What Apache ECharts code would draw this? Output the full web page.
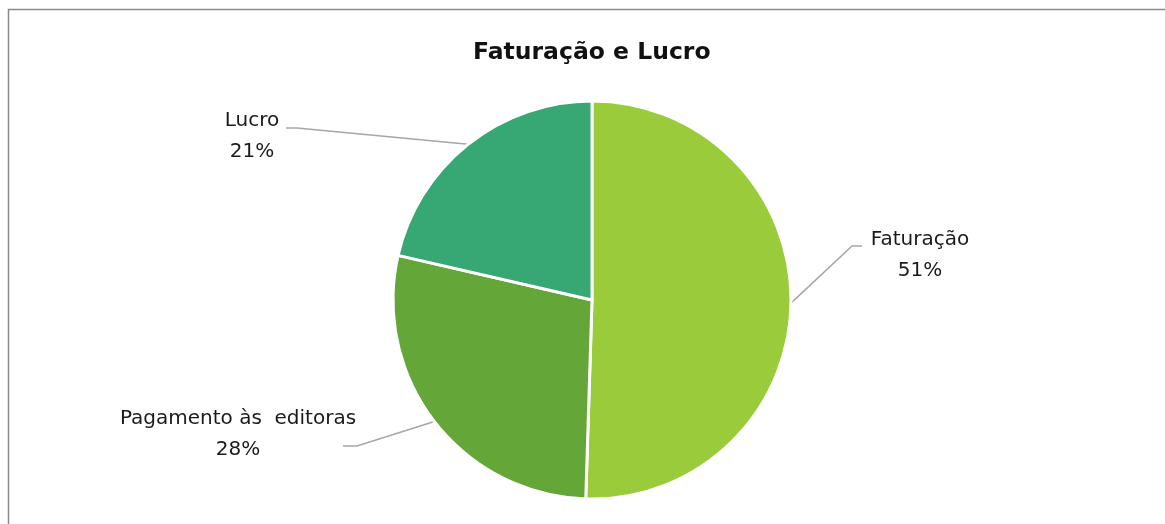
<!DOCTYPE html>
<html>
<head>
<meta charset="utf-8">
<script src="https://cdn.jsdelivr.net/npm/echarts@6/dist/echarts.min.js"></script>
<style>
  html, body { margin: 0; padding: 0; background: #fff; }
  #main { width: 1165px; height: 524px; }
</style>
</head>
<body>
<div id="main"></div>
<script>
// dados do gráfico
var categorias = ['Faturação', 'Pagamento às  editoras', 'Lucro'];
var valores = [50.5, 28.1, 21.4];
var cores = ['#9acb3a', '#65a638', '#37a773'];

// onde fica o texto de cada rótulo (centro do bloco) e o cotovelo da linha
var posRotulos = [[920, 255], [238, 434], [252, 136]];
var cotovelos = [[[852, 246], [862, 246]], [[357, 446], [343, 446]], [[297, 128], [286, 128]]];

var myChart = echarts.init(document.getElementById('main'));

var dados = categorias.map(function (c, i) {
    return { name: c, value: valores[i], itemStyle: { color: cores[i] } };
});

var option = {
    backgroundColor: '#fff',
    animation: false,
    title: {
        text: 'Faturação e Lucro',
        left: 468,
        top: 36,
        textStyle: {
            fontFamily: 'DejaVu Sans',
            fontSize: 23.5,
            fontWeight: 'bold',
            color: '#111'
        }
    },
    graphic: [{
        type: 'rect',
        shape: { x: 8.5, y: 9.5, width: 1300, height: 700 },
        style: { fill: 'none', stroke: '#8a8a8a', lineWidth: 1.5 },
        silent: true
    }],
    series: [{
        type: 'pie',
        center: [592, 300],
        radius: 199,
        startAngle: 90,
        clockwise: true,
        percentPrecision: 0,
        data: dados,
        itemStyle: { borderColor: '#fff', borderWidth: 3 },
        label: {
            show: true,
            formatter: '{b}\n{d}%',
            fontFamily: 'DejaVu Sans',
            fontSize: 20,
            lineHeight: 31,
            color: '#1a1a1a',
            align: 'center'
        },
        labelLine: {
            show: true,
            length: 20,
            length2: 20,
            lineStyle: { color: '#a6a6a6', width: 1.5 }
        },
        labelLayout: function (params) {
            var i = params.dataIndex;
            var p0 = params.labelLinePoints ? params.labelLinePoints[0] : null;
            return {
                x: posRotulos[i][0],
                y: posRotulos[i][1],
                align: 'center',
                verticalAlign: 'middle',
                labelLinePoints: p0 ? [p0, cotovelos[i][0], cotovelos[i][1]] : undefined
            };
        }
    }]
};

myChart.setOption(option);
</script>
</body>
</html>
